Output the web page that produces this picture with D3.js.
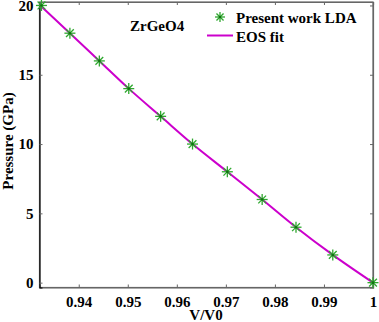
<!DOCTYPE html>
<html>
<head>
<meta charset="utf-8">
<script src="https://cdn.jsdelivr.net/npm/d3@7"></script>
<style>
  body { margin: 0; background: #fff; }
  text { font-family: "Liberation Serif", "Times New Roman", serif; font-weight: bold; }
</style>
</head>
<body>
<div id="chart"></div>
<script>
// data
var volume = [0.9324, 0.9382, 0.9442, 0.9502, 0.9567, 0.9632, 0.9703, 0.9774, 0.9843, 0.9918, 1.0];
var pressure = [20, 18, 16, 14, 12, 10, 8, 6, 4, 2, 0];
// EOS fit curve
var fit_volume = [0.932, 0.9382, 0.9442, 0.9502, 0.9567, 0.9632, 0.9703, 0.9774, 0.9843, 0.9918, 1.0];
var fit_pressure = [20.05, 18, 16, 14, 12, 10, 8, 6, 4, 2, 0];
var x_ticks = [0.94, 0.95, 0.96, 0.97, 0.98, 0.99, 1];
var y_ticks = [0, 5, 10, 15, 20];

var chart_width = 379;
var chart_height = 322;
var plot_left = 39.5, plot_right = 373, plot_top = 2, plot_bottom = 287.5;

var svg = d3.select('#chart')
  .append('svg')
  .attr('width', chart_width)
  .attr('height', chart_height);

var x_scale = d3.scaleLinear()
  .domain([0.932, 1.0])
  .range([plot_left, plot_right]);

var y_scale = d3.scaleLinear()
  .domain([-0.35, 20.25])
  .range([plot_bottom, plot_top]);

// frame
svg.append('rect')
  .attr('x', plot_left).attr('y', plot_top)
  .attr('width', plot_right - plot_left).attr('height', plot_bottom - plot_top)
  .attr('fill', 'none')
  .attr('stroke', '#666')
  .attr('stroke-width', 1.2);

// axes with inward ticks
var x_axis = d3.axisBottom(x_scale).tickValues(x_ticks).tickSize(-3).tickPadding(9)
  .tickFormat(function(d) { return d === 1 ? '1' : d3.format('.2f')(d); });
svg.append('g')
  .attr('transform', 'translate(0,' + plot_bottom + ')')
  .call(x_axis);

var y_axis = d3.axisLeft(y_scale).tickValues(y_ticks).tickSize(-3).tickPadding(6);
var gy = svg.append('g')
  .attr('transform', 'translate(' + plot_left + ',0)')
  .call(y_axis);

svg.append('g')
  .attr('transform', 'translate(0,' + plot_top + ')')
  .call(d3.axisTop(x_scale).tickValues(x_ticks).tickSize(-3).tickFormat(''));
svg.append('g')
  .attr('transform', 'translate(' + plot_right + ',0)')
  .call(d3.axisRight(y_scale).tickValues(y_ticks).tickSize(-3).tickFormat(''));

svg.selectAll('.domain').attr('stroke', '#666').attr('stroke-width', 1.2);
gy.select('.domain').attr('stroke', '#000');
svg.selectAll('.tick line').attr('stroke', '#666');
svg.selectAll('.tick text')
  .attr('fill', '#000')
  .style('font-size', '15px')
  .style('font-family', '"Liberation Serif", serif')
  .style('font-weight', 'bold');

// axis labels
svg.append('text')
  .attr('x', 206).attr('y', 320)
  .attr('text-anchor', 'middle')
  .style('font-size', '15px')
  .text('V/V0');

svg.append('text')
  .attr('transform', 'translate(13,141) rotate(-90)')
  .attr('text-anchor', 'middle')
  .style('font-size', '15px')
  .text('Pressure (GPa)');

svg.append('text')
  .attr('x', 130).attr('y', 31)
  .style('font-size', '15px')
  .text('ZrGeO4');

// fit line
var line = d3.line()
  .x(function(d) { return x_scale(d[0]); })
  .y(function(d) { return y_scale(d[1]); })
  .curve(d3.curveMonotoneX);

svg.append('path')
  .datum(d3.zip(fit_volume, fit_pressure))
  .attr('d', line)
  .attr('fill', 'none')
  .attr('stroke', '#cc00cc')
  .attr('stroke-width', 2);

// asterisk markers
function asterisk(g, r) {
  [0, 45, 90, 135].forEach(function(a) {
    var rad = a * Math.PI / 180;
    g.append('line')
      .attr('x1', -r * Math.cos(rad)).attr('y1', -r * Math.sin(rad))
      .attr('x2', r * Math.cos(rad)).attr('y2', r * Math.sin(rad))
      .attr('stroke', '#2fa82f')
      .attr('stroke-width', 1.3);
  });
  g.append('circle').attr('r', 1.3).attr('fill', '#127012');
}

svg.selectAll('.pt')
  .data(d3.zip(volume, pressure))
  .enter()
  .append('g')
  .attr('class', 'pt')
  .attr('transform', function(d) {
    return 'translate(' + x_scale(d[0]) + ',' + y_scale(d[1]) + ')';
  })
  .each(function() { asterisk(d3.select(this), 5.5); });

// legend
var lg = svg.append('g');
asterisk(lg.append('g').attr('transform', 'translate(220,17)'), 5);
lg.append('text').attr('x', 236).attr('y', 23).style('font-size', '15px').text('Present work LDA');
lg.append('line')
  .attr('x1', 207).attr('x2', 233).attr('y1', 35.5).attr('y2', 35.5)
  .attr('stroke', '#cc00cc').attr('stroke-width', 2);
lg.append('text').attr('x', 236).attr('y', 42).style('font-size', '15px').text('EOS fit');
</script>
</body>
</html>
